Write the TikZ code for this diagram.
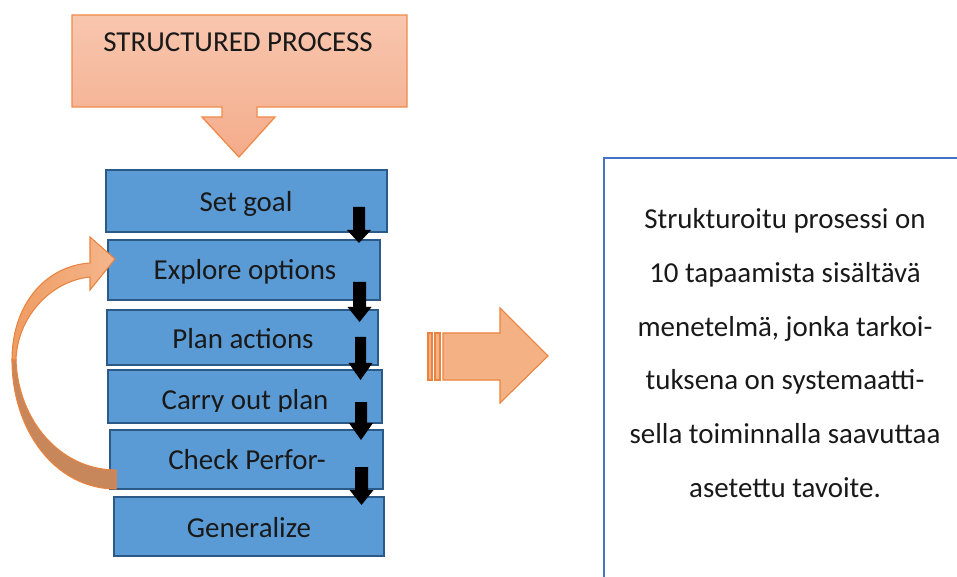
\documentclass[tikz,border=0pt]{standalone}
\usepackage{fontspec}
\setmainfont{Carlito}
\definecolor{boxfill}{HTML}{5B9BD5}
\definecolor{boxline}{HTML}{2C5A88}
\definecolor{peachtop}{HTML}{F8C6AE}
\definecolor{peachbot}{HTML}{F4AC8B}
\definecolor{peachline}{HTML}{F08A4B}
\definecolor{orfill}{HTML}{F4B183}
\definecolor{orline}{HTML}{E9833F}
\definecolor{orlight}{HTML}{F5B68C}
\definecolor{ordark}{HTML}{EE9C62}
\definecolor{brownback}{HTML}{C8875B}
\definecolor{noteline}{HTML}{4472C4}
\newcommand\stepnode[5]{%
  \node[stepbox, minimum width={(#4-#2)*0.75pt}, minimum height={(#5-#3)*0.75pt}]
    (#1) at ({(#2+#4)/2},{(#3+#5)/2}) {};}
\newcommand\dnarrow[5]{%
  \fill[black] (#1,#3) -- (#2,#3) -- (#2,#4) -- ({(#1+#2)/2+12},#4)
    -- ({(#1+#2)/2},#5) -- ({(#1+#2)/2-12},#4) -- (#1,#4) -- cycle;}
\begin{document}
\begin{tikzpicture}[x=0.75pt,y=-0.75pt,
  every node/.style={inner sep=0pt, outer sep=0pt},
  stepbox/.style={draw=boxline, fill=boxfill, line width=1.9pt},
  lbl/.style={font=\fontsize{21.7}{26}\selectfont, text=black!90, anchor=base}]
\path[use as bounding box] (0,0) rectangle (957,577);
\clip (0,0) rectangle (957,577);

% title callout with downward arrow
\path[draw=peachline, line width=1pt, top color=peachtop, bottom color=peachbot]
  (72,15) -- (407,15) -- (407,107) -- (257,107) -- (257,117) -- (275,117)
  -- (239,157) -- (202,117) -- (222,117) -- (222,107) -- (72,107) -- cycle;
\node[lbl] (title) at (238,52) {STRUCTURED PROCESS};

% process steps
\stepnode{b1}{106}{170}{387}{232}
\stepnode{b2}{108}{240}{380}{300}
\stepnode{b3}{107}{310}{378}{365}
\stepnode{b4}{108}{370}{382}{423}
\stepnode{b5}{110}{430}{383}{489}
\stepnode{b6}{114}{497}{384}{556}

\node[lbl] (t1) at (246,212) {Set goal};
\node[lbl] (t2) at (245,280) {Explore options};
\node[lbl] (t3) at (243,349) {Plan actions};
\begin{scope}
  \clip (100,370) rectangle (390,411);
  \node[lbl] (t4) at (245,409) {Carry out plan};
\end{scope}
\node[lbl] (t5) at (247,469) {Check Perfor-};
\node[lbl] (t6) at (249,537) {Generalize};

% step-to-step arrows
\dnarrow{353}{365}{207}{230}{243}
\dnarrow{353}{366}{282}{307}{322}
\dnarrow{355}{366}{337}{363}{380}
\dnarrow{355}{367}{402}{423}{440}
\dnarrow{355}{368}{467}{490}{505}

% feedback loop arrow: back face, then front face with head
\path[draw=orline, line width=0.8pt, fill=brownback]
  (116,489) .. controls (55,489) and (12,430) .. (12,360)
  -- (16,360) .. controls (18,420) and (60,470) .. (116,470) -- cycle;
\path[draw=orline, line width=0.8pt, left color=ordark, right color=orlight]
  (12,360) .. controls (12,305) and (45,266) .. (90,263)
  -- (90,237) -- (115,259) -- (90,290) -- (90,277)
  .. controls (50,281) and (17,318) .. (16,360) -- cycle;

% striped arrow towards the description
\path[draw=orline, line width=0.8pt, fill=orfill]
  (443,333) -- (500,333) -- (500,308) -- (548,356) -- (500,403)
  -- (500,380) -- (443,380) -- cycle;
\path[draw=orline, line width=0.8pt, fill=orfill] (428,333) rectangle (432,380);
\path[draw=orline, line width=0.8pt, fill=orfill] (435,333) rectangle (440,380);

% description panel
\draw[noteline, line width=2.2pt] (960,158) -- (604,158) -- (604,580);
\node[lbl] (d1) at (785,229) {Strukturoitu prosessi on};
\node[lbl] (d2) at (785,282.6) {10 tapaamista sisältävä};
\node[lbl] (d3) at (785,336.2) {menetelmä, jonka tarkoi-};
\node[lbl] (d4) at (785,389.8) {tuksena on systemaatti-};
\node[lbl] (d5) at (785,443.4) {sella toiminnalla saavuttaa};
\node[lbl] (d6) at (785,497) {asetettu tavoite.};
\end{tikzpicture}
\end{document}
